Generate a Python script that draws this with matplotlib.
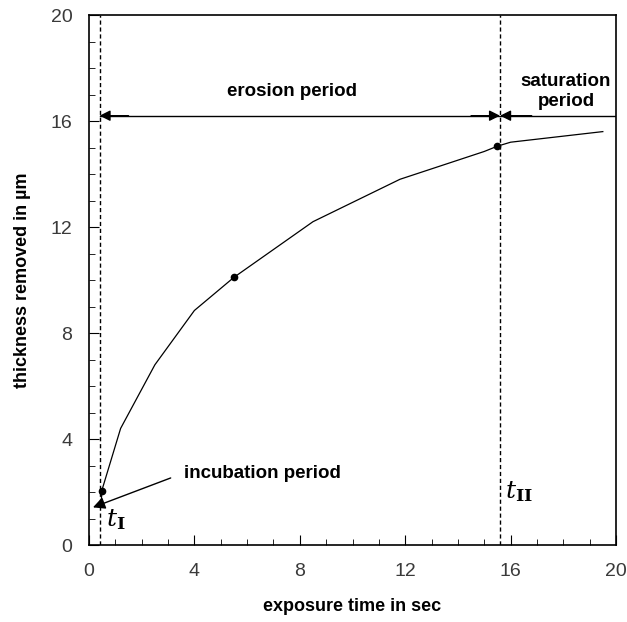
import matplotlib.pyplot as plt
from matplotlib.ticker import MultipleLocator

# curve
time_s = [0.45, 0.5, 1.2, 2.5, 4.0, 5.5, 8.5, 11.8, 15.0, 15.5, 16.0, 19.5]
thick_um = [1.5, 2.1, 4.4, 6.8, 8.85, 10.1, 12.2, 13.8, 14.85, 15.05, 15.2, 15.6]

# measured points (dots)
pts_t = [0.5, 5.5, 15.5]
pts_y = [2.05, 10.1, 15.05]

t_one = 0.4
t_two = 15.6
arrow_y = 16.2

plt.rcParams['font.family'] = ['Liberation Sans', 'DejaVu Sans']
plt.rcParams['mathtext.fontset'] = 'dejavuserif'

fig = plt.figure(figsize=(6.27, 6.22), dpi=100)
ax = fig.add_axes([89 / 627, 77 / 622, 527 / 627, 530 / 622])

ax.plot(time_s, thick_um, 'k-', lw=0.9)
ax.plot(pts_t, pts_y, 'ko', ms=4.5)

ax.axvline(t_one, color='k', ls=(0, (3, 2)), lw=1)
ax.axvline(t_two, color='k', ls=(0, (3, 2)), lw=1)

ax.axhline(arrow_y, xmin=t_one / 20, xmax=1, color='k', lw=1)
aprops = dict(arrowstyle='-|>', color='k', lw=1, mutation_scale=16, shrinkA=0, shrinkB=0)
ax.annotate('', xy=(t_one, arrow_y), xytext=(1.5, arrow_y), arrowprops=aprops)
ax.annotate('', xy=(t_two, arrow_y), xytext=(14.5, arrow_y), arrowprops=aprops)
ax.annotate('', xy=(t_two, arrow_y), xytext=(16.8, arrow_y), arrowprops=aprops)

ax.text(7.7, 17.1, 'erosion period', ha='center', va='center', fontsize=13.5, fontweight='bold')
ax.text(18.1, 17.1, 'saturation\nperiod', ha='center', va='center', fontsize=13.5,
        fontweight='bold', linespacing=1.25)

ax.annotate('', xy=(0.15, 1.42), xytext=(3.1, 2.53),
            arrowprops=dict(arrowstyle='-|>', color='k', lw=1, mutation_scale=18, shrinkA=0, shrinkB=0))
ax.text(3.6, 2.7, 'incubation period', ha='left', va='center', fontsize=13.5, fontweight='bold')

ax.text(1.0, 0.95, r'$\mathit{t}_{\mathbf{I}}$', ha='center', va='center', fontsize=18)
ax.text(16.3, 2.0, r'$\mathit{t}_{\mathbf{II}}$', ha='center', va='center', fontsize=18)

ax.set_xlim(0, 20)
ax.set_ylim(0, 20)
ax.xaxis.set_major_locator(MultipleLocator(4))
ax.xaxis.set_minor_locator(MultipleLocator(1))
ax.yaxis.set_major_locator(MultipleLocator(4))
ax.yaxis.set_minor_locator(MultipleLocator(1))
ax.tick_params(which='both', direction='in', top=False, right=False, labelsize=14,
               labelcolor='#3a3a3a')
ax.tick_params(axis='x', which='major', length=7, pad=13)
ax.tick_params(axis='y', which='major', length=7, pad=12)
ax.tick_params(which='minor', length=4)
for s in ax.spines.values():
    s.set_linewidth(1.2)

ax.set_xlabel('exposure time in sec', fontsize=13, fontweight='bold', labelpad=13)
ax.set_ylabel('thickness removed in µm', fontsize=13, fontweight='bold', labelpad=14)

fig.savefig('out.png', dpi=100)
